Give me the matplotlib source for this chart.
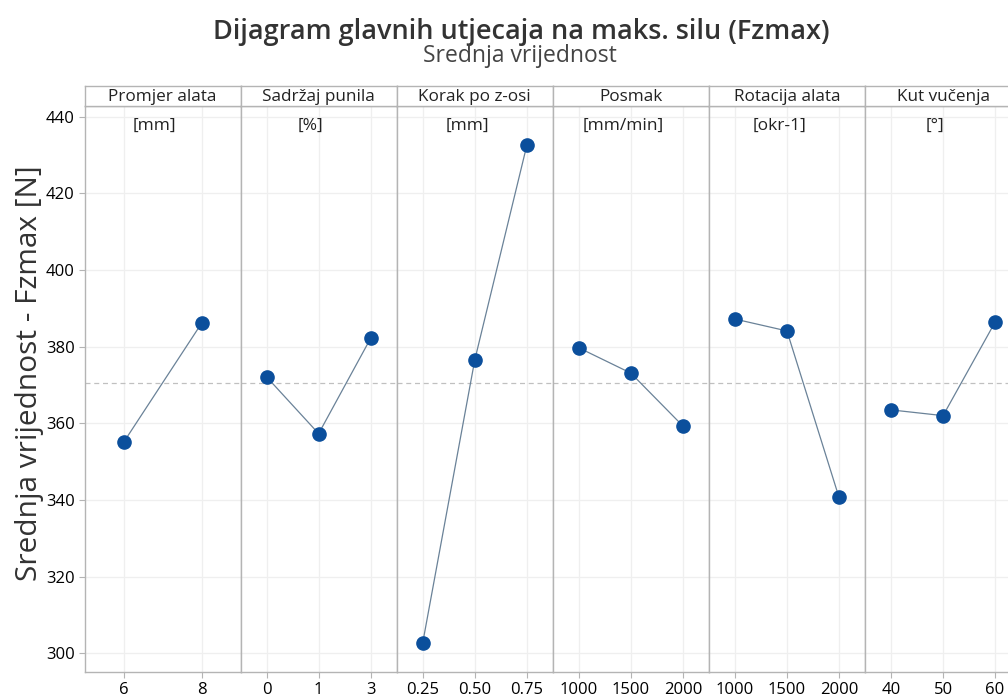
import matplotlib
matplotlib.use("Agg")
import matplotlib.pyplot as plt

# Factors, their units, levels and mean response per level
factors = ["Promjer alata", "Sadržaj punila", "Korak po z-osi", "Posmak", "Rotacija alata", "Kut vučenja"]
units = ["[mm]", "[%]", "[mm]", "[mm/min]", "[okr-1]", "[°]"]
levels = [
    ["6", "8"],
    ["0", "1", "3"],
    ["0.25", "0.50", "0.75"],
    ["1000", "1500", "2000"],
    ["1000", "1500", "2000"],
    ["40", "50", "60"],
]
means = [
    [355.0, 386.1],
    [372.1, 357.3, 382.2],
    [302.7, 376.5, 432.5],
    [379.7, 373.1, 359.3],
    [387.2, 384.1, 340.7],
    [363.5, 362.0, 386.4],
]
grand_mean = 370.5
y_ticks = [300, 320, 340, 360, 380, 400, 420, 440]

plt.rcParams["font.family"] = ["Open Sans", "DejaVu Sans"]

W, H = 1008, 695
fig = plt.figure(figsize=(W / 100, H / 100), dpi=100)

left_px, top_px, bottom_px, strip_top_px = 84.5, 106, 672, 86
panel_w = 156.1
edge = "#b4b4b4"
grid_c = "#efefef"
marker_c = "#0b4f9c"
line_c = "#6a8298"

ylim = (295.1, 442.8)

for i, (fac, unit, lv, m) in enumerate(zip(factors, units, levels, means)):
    x0 = (left_px + i * panel_w) / W
    ax = fig.add_axes([x0, (H - bottom_px) / H, panel_w / W, (bottom_px - top_px) / H])
    xs = list(range(len(lv)))
    ax.set_xlim(-0.5, len(lv) - 0.5)
    ax.set_ylim(*ylim)
    ax.set_xticks(xs)
    ax.set_xticklabels(lv)
    ax.set_yticks(y_ticks)
    for xv in xs:
        ax.axvline(xv, color=grid_c, lw=0.9, zorder=0)
    for yv in y_ticks:
        ax.axhline(yv, color=grid_c, lw=0.9, zorder=0)
    ax.axhline(grand_mean, color="#c0c0c0", lw=0.9, ls=(0, (4, 3)), zorder=1)
    ax.plot(xs, m, color=line_c, lw=0.9, zorder=2)
    ax.plot(xs, m, "o", color=marker_c, ms=9.5, mec=marker_c, zorder=3)
    ax.text(0.45, 0.965, unit, transform=ax.transAxes, ha="center", va="center",
            fontsize=12.5, color="#222222")
    for s in ax.spines.values():
        s.set_color(edge)
        s.set_linewidth(1.0)
    ax.tick_params(axis="x", colors=edge, labelcolor="black", labelsize=12, length=4, pad=3)
    if i == 0:
        ax.tick_params(axis="y", colors=edge, labelcolor="black", labelsize=12, length=4, pad=3)
        ax.set_ylabel("Srednja vrijednost - Fzmax [N]", fontsize=21.5, color="#333333")
        ax.yaxis.set_label_coords((30 - left_px) / panel_w, (bottom_px - 373) / (bottom_px - top_px))
        ax.yaxis.label.set_va("center")
    else:
        ax.tick_params(axis="y", left=False, labelleft=False)
    ax.set_facecolor("white")

    # header strip with factor name
    sx = fig.add_axes([x0, (H - top_px) / H, panel_w / W, (top_px - strip_top_px) / H])
    sx.set_xticks([])
    sx.set_yticks([])
    for s in sx.spines.values():
        s.set_color(edge)
        s.set_linewidth(1.0)
    sx.text(0.5, 0.45, fac, transform=sx.transAxes, ha="center", va="center",
            fontsize=12.3, color="#222222")

fig.text(521 / W, 1 - 32 / H, "Dijagram glavnih utjecaja na maks. silu (Fzmax)",
         ha="center", va="center", fontsize=19.5, fontweight="semibold", color="#333333")
fig.text(520 / W, 1 - 56 / H, "Srednja vrijednost", ha="center", va="center",
         fontsize=16.5, color="#444444")

fig.savefig("out.png", dpi=100)
